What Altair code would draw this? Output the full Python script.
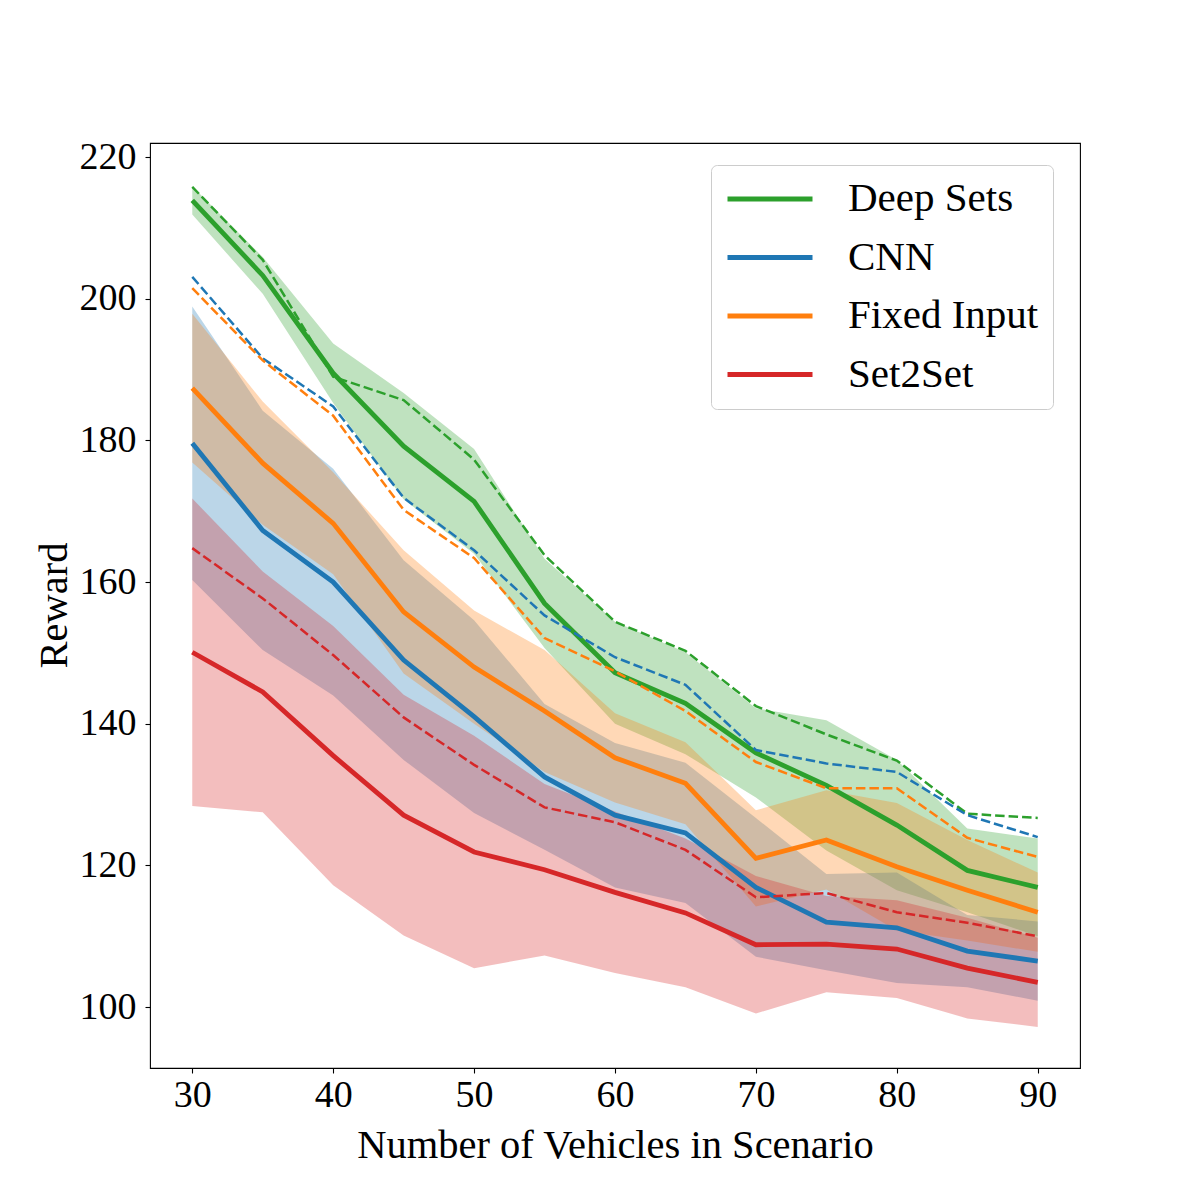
import altair as alt
import pandas as pd

# ---- data ----
vehicles = [30, 35, 40, 45, 50, 55, 60, 65, 70, 75, 80, 85, 90]
methods = ["Deep Sets", "CNN", "Fixed Input", "Set2Set"]
colors = ["#2ca02c", "#1f77b4", "#ff7f0e", "#d62728"]

deep_sets_mean = [213.9, 203.3, 189.5, 179.2, 171.4, 157.0, 147.2, 142.9, 135.9, 131.3, 125.7, 119.3, 116.9]
deep_sets_std = [2.0, 2.6, 4.2, 7.5, 7.4, 6.3, 7.2, 7.2, 6.3, 9.2, 9.2, 5.9, 6.9]
deep_sets_dashed = [215.8, 205.5, 189.0, 185.7, 177.3, 163.8, 154.4, 150.3, 142.5, 138.5, 134.8, 127.3, 126.7]

cnn_mean = [179.6, 167.3, 160.0, 149.0, 141.0, 132.5, 127.1, 124.6, 116.9, 112.0, 111.2, 107.9, 106.5]
cnn_std = [19.3, 16.9, 16.0, 14.1, 13.6, 10.3, 10.2, 9.9, 9.8, 6.8, 7.8, 5.1, 5.6]
cnn_dashed = [203.1, 191.6, 184.8, 171.9, 164.5, 155.3, 149.4, 145.5, 136.3, 134.4, 133.2, 127.1, 124.0]

fixed_mean = [187.4, 176.8, 168.3, 155.8, 148.0, 141.8, 135.2, 131.6, 121.0, 123.6, 119.8, 116.5, 113.4]
fixed_std = [10.5, 8.7, 7.2, 8.7, 8.0, 8.6, 6.3, 5.8, 6.8, 7.0, 9.0, 7.1, 5.6]
fixed_dashed = [201.5, 191.3, 183.5, 170.2, 163.4, 152.1, 147.4, 141.8, 134.6, 130.9, 130.9, 123.9, 121.2]

set2set_mean = [150.1, 144.5, 135.5, 127.1, 121.9, 119.4, 116.2, 113.3, 108.8, 108.9, 108.2, 105.5, 103.5]
set2set_std = [21.7, 17.0, 18.3, 17.0, 16.4, 12.1, 11.4, 10.5, 9.7, 6.8, 6.9, 7.1, 6.3]
set2set_dashed = [164.8, 157.7, 149.7, 140.9, 134.2, 128.2, 126.1, 122.2, 115.5, 116.1, 113.4, 111.9, 110.0]

x_ticks = [30, 40, 50, 60, 70, 80, 90]
y_ticks = [100, 120, 140, 160, 180, 200, 220]

series = {
    "Deep Sets": (deep_sets_mean, deep_sets_std, deep_sets_dashed),
    "CNN": (cnn_mean, cnn_std, cnn_dashed),
    "Fixed Input": (fixed_mean, fixed_std, fixed_dashed),
    "Set2Set": (set2set_mean, set2set_std, set2set_dashed),
}

rows = []
for order, m in enumerate(methods):
    mean, std, dashed = series[m]
    for v, mu, sd, d in zip(vehicles, mean, std, dashed):
        rows.append({"vehicles": v, "method": m, "order": order, "mean": mu,
                     "lo": mu - sd, "hi": mu + sd, "dashed": d})
df = pd.DataFrame(rows)

FONT = "Liberation Serif"

xscale = alt.Scale(domain=[27, 93], nice=False, zero=False)
yscale = alt.Scale(domain=[91.4, 222.0], nice=False, zero=False)

x_enc = alt.X("vehicles:Q", scale=xscale,
              axis=alt.Axis(values=x_ticks, title="Number of Vehicles in Scenario",
                            titleY=89, titleBaseline="alphabetic", labelPadding=3))
y_axis = alt.Axis(values=y_ticks, title="Reward", titleX=-84, titleY=462,
                  titleAngle=270, titleBaseline="alphabetic", labelPadding=9)

cscale = alt.Scale(domain=methods, range=colors)

bands = alt.Chart(df).mark_area(opacity=0.3, strokeWidth=0).encode(
    x=x_enc,
    y=alt.Y("lo:Q", scale=yscale, axis=y_axis, stack=None),
    y2="hi:Q",
    color=alt.Color("method:N", scale=cscale, legend=None),
    order="order:Q",
)

solid = alt.Chart(df).mark_line(strokeWidth=4.8).encode(
    x=x_enc,
    y=alt.Y("mean:Q", scale=yscale, axis=y_axis),
    color=alt.Color("method:N", scale=cscale,
                    legend=alt.Legend(title=None, orient="none", legendX=561, legendY=22,
                                      symbolType="stroke", symbolSize=7225,
                                      symbolStrokeWidth=5, labelOffset=33,
                                      labelFont=FONT, labelFontSize=41, labelColor="black",
                                      labelLimit=0,
                                      clipHeight=40, rowPadding=17.5, padding=14,
                                      strokeColor="#cccccc", cornerRadius=6,
                                      fillColor="rgba(255,255,255,0.8)")),
)

dashed = alt.Chart(df).mark_line(strokeWidth=2.5, strokeDash=[9.5, 4]).encode(
    x=x_enc,
    y=alt.Y("dashed:Q", scale=yscale, axis=y_axis),
    color=alt.Color("method:N", scale=cscale, legend=None),
)

chart = alt.layer(bands, solid, dashed).resolve_scale(
    color="independent"
).properties(
    width=930, height=925,
    background="white",
    autosize=alt.AutoSizeParams(type="none"),
    padding={"left": 150, "top": 143, "right": 120, "bottom": 132},
).configure_view(
    stroke="black", strokeWidth=1.1
).configure_axis(
    domain=False, grid=False,
    tickColor="black", tickSize=5, tickWidth=1.1,
    labelFont=FONT, labelFontSize=38, labelColor="black",
    titleFont=FONT, titleFontSize=40.5, titleColor="black", titleFontWeight="normal",
)

chart.save("out.html", embed_options={"renderer": "svg", "actions": False})
